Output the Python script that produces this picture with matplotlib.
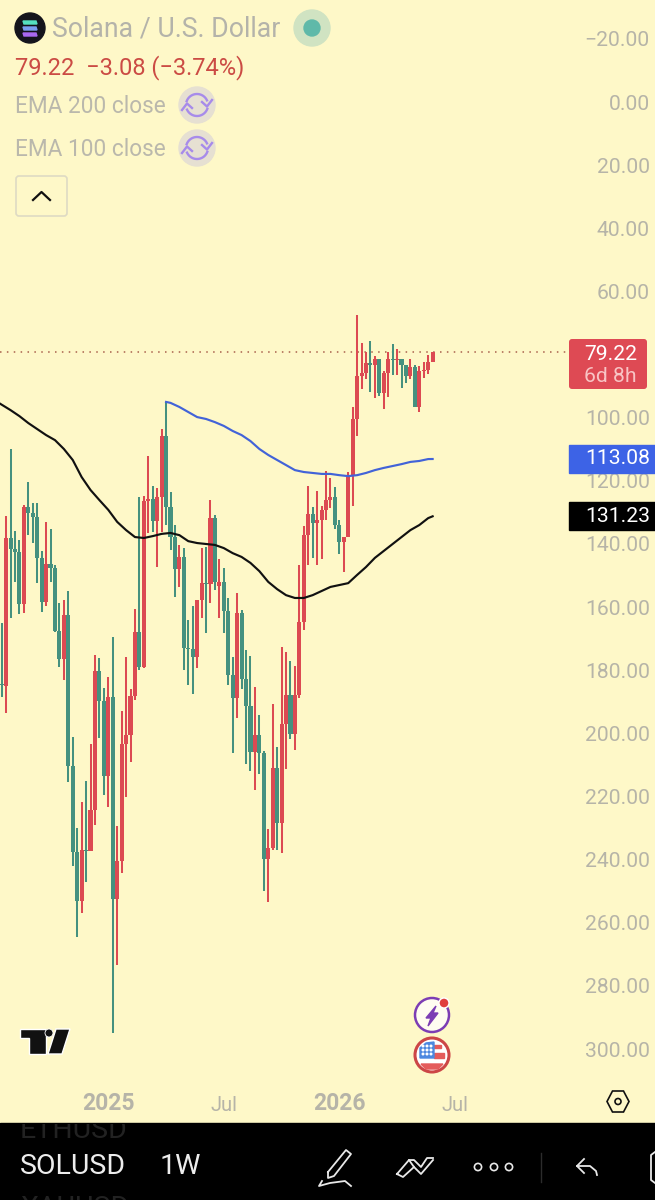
import numpy as np
import matplotlib

matplotlib.use("Agg")
import matplotlib.pyplot as plt
from matplotlib.patches import Circle, FancyBboxPatch, Polygon, Rectangle

plt.rcParams["font.family"] = ["Roboto", "DejaVu Sans"]

# weekly candles, price values (axis is inverted)
open_ = [184.4, 185.0, 138.1, 141.6, 142.5, 159.0, 128.3, 130.2, 131.5, 144.4,
         158.4, 146.3, 147.6, 167.6, 176.4, 162.5, 210.3, 237.6, 253.1, 236.9,
         237.3, 224.3, 180.2, 189.7, 213.5, 188.5, 252.5, 240.4, 203.4, 200.5,
         188.2, 167.9, 179.0, 126.4, 125.8, 132.7, 125.1, 105.8, 128.3, 137.8,
         147.9, 144.1, 173.0, 173.3, 175.8, 157.7, 152.4, 152.7, 131.8, 153.3,
         152.0, 161.2, 181.5, 188.8, 161.9, 182.8, 191.3, 205.9, 200.5, 206.2,
         239.8, 236.3, 211.0, 228.4, 197.0, 187.8, 200.2, 187.8, 164.7, 137.2,
         130.5, 133.4, 132.4, 129.2, 126.1, 125.1, 134.0, 139.4, 137.8, 118.5,
         100.4, 86.8, 85.8, 82.7, 83.3, 81.4, 92.2, 85.8, 81.4, 81.7,
         81.4, 83.3, 86.8, 83.9, 96.6, 85.2, 84.9, 82.30]
close = [184.7, 138.1, 141.6, 142.5, 159.0, 128.3, 130.2, 131.5, 144.4, 158.4,
         146.3, 147.6, 167.6, 176.4, 162.5, 210.3, 237.6, 253.1, 236.9, 237.3,
         224.3, 180.2, 189.7, 213.5, 188.5, 252.5, 240.4, 203.4, 200.5, 188.2,
         167.9, 179.0, 126.4, 125.8, 132.7, 125.1, 105.8, 128.3, 137.8, 147.9,
         144.1, 173.0, 173.3, 175.8, 157.7, 152.4, 152.7, 131.8, 152.0, 152.0,
         161.2, 181.5, 188.8, 161.9, 182.8, 191.3, 205.9, 200.5, 206.2, 239.8,
         236.3, 211.0, 228.4, 197.0, 187.8, 200.2, 187.8, 164.7, 137.2, 130.5,
         133.4, 132.4, 129.2, 126.1, 125.1, 134.0, 139.4, 137.8, 118.5, 100.4,
         86.8, 85.8, 82.7, 83.3, 81.4, 92.2, 85.8, 81.4, 81.7, 81.4,
         83.3, 86.8, 83.9, 96.6, 85.2, 84.9, 82.30, 79.22]
low = [165.0, 131.1, 109.9, 135.9, 138.7, 127.7, 120.4, 127.0, 127.0, 142.2,
       133.0, 135.3, 146.7, 158.7, 157.7, 154.9, 201.1, 230.0, 221.7, 215.1,
       203.4, 175.2, 176.1, 185.6, 182.1, 169.5, 229.3, 192.9, 175.8, 185.9,
       160.6, 125.1, 124.8, 112.1, 121.6, 122.3, 103.6, 95.0, 123.5, 134.0,
       140.3, 141.3, 164.1, 159.6, 157.7, 141.3, 141.0, 126.1, 130.8, 144.8,
       147.6, 157.1, 175.8, 155.5, 160.9, 173.6, 175.5, 185.3, 194.2, 205.6,
       230.3, 190.7, 204.3, 172.6, 174.2, 177.1, 178.7, 146.7, 134.3, 121.6,
       128.3, 123.2, 128.0, 116.9, 119.1, 122.0, 132.4, 137.8, 117.2, 96.6,
       67.5, 76.3, 79.2, 75.7, 80.5, 81.4, 85.2, 79.2, 76.7, 78.2,
       81.4, 83.3, 81.4, 83.3, 83.6, 82.4, 80.1, 79.22]
high = [188.5, 193.5, 163.4, 152.0, 162.2, 161.9, 137.2, 139.7, 152.4, 161.5,
        159.6, 152.0, 167.9, 179.0, 183.1, 215.4, 242.0, 264.5, 256.9, 247.1,
        237.3, 229.0, 201.5, 219.5, 223.3, 294.9, 273.4, 244.2, 220.1, 209.1,
        189.4, 179.9, 179.3, 136.5, 136.2, 147.3, 136.2, 134.0, 141.9, 156.8,
        153.6, 179.9, 184.7, 187.5, 179.3, 163.4, 168.2, 158.7, 154.6, 163.4,
        168.2, 184.7, 206.2, 195.1, 185.9, 209.7, 211.9, 217.9, 212.9, 249.9,
        253.4, 236.9, 236.9, 237.9, 211.3, 201.8, 205.3, 188.8, 167.3, 146.7,
        144.4, 146.7, 144.8, 132.4, 128.6, 135.3, 143.2, 148.9, 137.8, 128.0,
        105.8, 90.9, 87.7, 91.9, 93.8, 93.1, 97.2, 93.4, 86.5, 86.5,
        90.6, 89.0, 87.7, 96.6, 98.2, 87.4, 86.2, 82.30]

ema_black_x = [-1, 2, 4, 6, 8, 10, 12, 14, 16, 18, 20, 22, 24, 26, 28, 30, 32, 34,
               36, 38, 40, 42, 44, 46, 48, 50, 52, 54, 56, 58, 60, 62, 64, 66, 68,
               70, 72, 74, 76, 78, 80, 82, 84, 86, 88, 90, 92, 94, 96, 97]
ema_black = [95.0, 97.6, 99.5, 101.7, 103.6, 105.5, 107.1, 109.9, 113.4, 118.8,
             122.9, 126.1, 129.2, 133.0, 135.6, 137.8, 138.1, 137.5, 136.8, 136.5,
             137.2, 139.1, 139.7, 140.0, 140.3, 141.3, 142.9, 144.1, 146.0, 148.6,
             152.0, 154.3, 156.2, 157.1, 157.1, 156.2, 154.9, 153.6, 153.0, 152.4,
             149.8, 147.3, 144.4, 142.2, 140.0, 137.8, 135.6, 134.0, 131.8, 131.23]
ema_blue_x = [37, 38, 40, 42, 44, 46, 48, 50, 52, 54, 56, 58, 60, 62, 64, 66, 68,
              70, 72, 74, 76, 78, 80, 82, 84, 86, 88, 90, 92, 94, 96, 97]
ema_blue = [95.0, 95.3, 96.6, 98.2, 99.8, 100.4, 101.4, 102.6, 104.2, 105.5, 107.4,
            109.9, 111.8, 113.4, 115.0, 116.6, 117.2, 117.5, 117.8, 117.8, 118.2,
            118.5, 118.2, 117.5, 116.6, 115.9, 115.3, 114.7, 114.0, 113.7, 113.1,
            113.08]

# 80.00 sits under the last price label, so the chart doesn't print it
price_ticks = [-20, 0, 20, 40, 60, 100, 120, 140, 160, 180, 200, 220, 240, 260, 280, 300]
time_ticks = [24, 50, 76, 102]
time_labels = ["2025", "Jul", "2026", "Jul"]
last_price = 79.22

BG = "#FEF8C8"
RED = "#DC4A52"
TEAL = "#45917F"
GREY = "#B6B4A8"
ICON = "#E8E8E8"

fig = plt.figure(figsize=(6.55, 12), dpi=100, facecolor="black")

# chart area, pixel rows 0-1123
ax = fig.add_axes([0, 1 - 1123 / 1200, 1, 1123 / 1200], facecolor=BG)
ax.set_xlim(-0.376, 147.05)
ax.set_ylim(323.4, -32.31)

idx = np.arange(len(open_))
colors = [RED if c < o else TEAL for o, c in zip(open_, close)]
ax.vlines(idx, low, high, colors=colors, linewidth=1.45, zorder=2)
ax.bar(idx, np.array(close) - np.array(open_), bottom=open_, width=0.92,
       color=colors, linewidth=0, zorder=3)

ax.plot(ema_black_x, ema_black, color="#111111", linewidth=1.55, zorder=4)
ax.plot(ema_blue_x, ema_blue, color="#4263D8", linewidth=1.55, zorder=4)
ax.plot([-0.376, 127.5], [last_price, last_price], color="#A9604C",
        linewidth=1.1, linestyle=(0, (1, 3.5)), zorder=1)

for side in ax.spines.values():
    side.set_visible(False)

ax.yaxis.tick_right()
ax.set_yticks(price_ticks)
ax.set_yticklabels([f"{v:.2f}".replace("-", "\u2212") for v in price_ticks])
ax.tick_params(axis="y", length=0, pad=-3.6, labelsize=15.2, labelcolor=GREY)
for lab in ax.get_yticklabels():
    lab.set_ha("right")

ax.set_xticks(time_ticks)
ax.set_xticklabels(time_labels)
ax.tick_params(axis="x", length=0, pad=-5.6, labelsize=14.5, labelcolor=GREY)
for lab in ax.get_xticklabels():
    lab.set_va("bottom")
    if lab.get_text().startswith("20"):
        lab.set_fontweight("bold")
        lab.set_fontsize(16.5)

# overlay in pixel coordinates for the app's interface
ui = fig.add_axes([0, 0, 1, 1], facecolor="none")
ui.set_xlim(0, 655)
ui.set_ylim(1200, 0)
ui.axis("off")

# header
ui.add_patch(Circle((30, 28), 15, color="#14141C"))
for yy, col in zip([22, 28, 34], ["#55E0C0", "#7A9CF0", "#A868F0"]):
    ui.add_patch(Polygon([(24, yy + 2), (37, yy + 2), (36, yy - 1), (23, yy - 1)], color=col))
ui.text(52, 29.5, "Solana / U.S. Dollar", fontsize=19.2, color="#B4B3AA", va="center")
ui.add_patch(Circle((312, 28), 18, color="#D0E3C2"))
ui.add_patch(Circle((312, 28), 8, color="#5FB9A9"))
ui.text(15, 68, "79.22  \u22123.08 (\u22123.74%)", fontsize=17, color="#CB4B44", va="center")

for row, name in zip([105, 148], ["EMA 200 close", "EMA 100 close"]):
    ui.text(15, row + 1.5, name, fontsize=16.3, color="#BAB8AC", va="center")
    ui.add_patch(Circle((197, row), 18, color="#E6E0D2"))
    t = np.radians(np.linspace(200, 335, 30))
    ui.plot(197 + 11 * np.cos(t), row + 11 * np.sin(t), color="#A78BEA", lw=1.7)
    ui.plot(197 + 11 * np.cos(t + np.pi), row + 11 * np.sin(t + np.pi), color="#A78BEA", lw=1.7)
    ui.plot([202, 207, 212], [row - 3, row + 1.5, row - 5], color="#A78BEA", lw=1.7)
    ui.plot([182, 187, 192], [row + 5, row - 1.5, row + 3], color="#A78BEA", lw=1.7)

ui.add_patch(FancyBboxPatch((16, 176), 51, 40, boxstyle="round,pad=0,rounding_size=3",
                            fc=BG, ec="#DEDAC4", lw=1.2))
ui.plot([33, 41.5, 50], [200, 192, 200], color="#111111", lw=1.6)

# price labels
ui.add_patch(FancyBboxPatch((569, 339), 78, 50, boxstyle="round,pad=0,rounding_size=3",
                            fc="#DE4A54", ec="none"))
ui.text(637, 354, "79.22", fontsize=15.2, color="white", ha="right", va="center")
ui.text(637, 376, "6d 8h", fontsize=15.2, color="#F8C4C4", ha="right", va="center")
ui.add_patch(Rectangle((569, 445), 86, 28, color="#3D63E6"))
ui.text(650, 459, "113.08", fontsize=15.2, color="white", ha="right", va="center")
ui.add_patch(Rectangle((569, 502), 86, 28, color="black"))
ui.text(650, 516, "131.23", fontsize=15.2, color="white", ha="right", va="center")

# tradingview mark
logo = [[(20, 1029), (46, 1029), (46, 1054), (29, 1054), (29, 1038), (20, 1038)],
        [(56, 1029), (70, 1029), (62, 1054), (48, 1054)]]
for pts in logo:
    ui.add_patch(Polygon(pts, fc="#111111", ec="white", lw=1))
ui.add_patch(Circle((49, 1033), 4, fc="#111111", ec="white", lw=0.6))

# event badges
ui.add_patch(Circle((432, 1015), 17, fc="#FFFDF0", ec="#7C3DB4", lw=1.8))
ui.add_patch(Polygon([(436, 1006), (426, 1018), (431, 1018), (428, 1026), (438, 1013), (433, 1013)],
                     color="#7C3DB4"))
ui.add_patch(Circle((444, 1003), 5, fc="#E03E3E", ec="white", lw=1))
ui.add_patch(Circle((432, 1055), 17, fc="white", ec="#CC4646", lw=2.2))
ui.add_patch(Rectangle((434, 1053), 10, 5, color="#E45B5B"))
ui.add_patch(Rectangle((434, 1045), 7, 3, color="#E45B5B"))
ui.add_patch(Polygon([(421, 1064), (443, 1064), (438, 1069), (426, 1069)], color="#E45B5B"))
ui.add_patch(Polygon([(420, 1058), (420, 1048), (426, 1043), (434, 1042), (434, 1058)], color="#4D88E0"))
for dx in [423, 427, 431]:
    for dy in [1046, 1050, 1054]:
        ui.add_patch(Circle((dx, dy), 0.8, color="white"))

# settings hexagon
hx = 618 + 11 * np.array([-1, -0.5, 0.5, 1, 0.5, -0.5])
hy = 1101.5 + 10.5 * np.array([0, -1, -1, 0, 1, 1])
ui.add_patch(Polygon(np.column_stack([hx, hy]), fc="none", ec="#111111", lw=1.2))
ui.add_patch(Circle((618, 1101.5), 3, fc="none", ec="#111111", lw=1.2))

# bottom toolbar
ui.add_patch(Rectangle((0, 1123), 655, 77, color="black"))
for txt, row, col in [("ETHUSD", 1131, "#222222"), ("XAUUSD", 1208, "#222222"), ("SOLUSD", 1167, "#EDEDED")]:
    item = ui.text(20, row, txt, fontsize=20.5, color=col, va="center", clip_on=True)
    item.set_clip_path(Rectangle((0, 1124), 130, 76, transform=ui.transData))
ui.text(160, 1167, "1W", fontsize=20.5, color="#EDEDED", va="center")

# pen
ui.plot([328, 346, 351, 334, 328, 328], [1172, 1150, 1154, 1176, 1178, 1172], color=ICON, lw=1.3)
ui.plot([322, 319, 330, 345, 351], [1181, 1186, 1183, 1181, 1186], color=ICON, lw=1.3)
# curve tool
ui.plot([397, 409, 414, 403, 397], [1174, 1160, 1167, 1177, 1174], color=ICON, lw=1.3)
ui.plot([409, 414, 421, 427, 433], [1160, 1160, 1167, 1158, 1158], color=ICON, lw=1.3)
ui.plot([414, 421, 433], [1167, 1174, 1160], color=ICON, lw=1.3)
# more
for cx in [478, 494, 509]:
    ui.add_patch(Circle((cx, 1167), 3.6, fc="none", ec=ICON, lw=1.2))
ui.plot([541, 541], [1153, 1182], color="#2C2C2C", lw=1)
# undo
ui.plot([584, 577, 584], [1159, 1166, 1173], color=ICON, lw=1.3)
ui.plot([577, 590, 596, 597], [1166, 1166, 1171, 1175], color=ICON, lw=1.3)
# cut off icon at the edge
ui.plot([655, 651, 651, 655], [1152, 1155, 1180, 1183], color=ICON, lw=1.3)

fig.savefig("out.png", dpi=100, facecolor="black")
